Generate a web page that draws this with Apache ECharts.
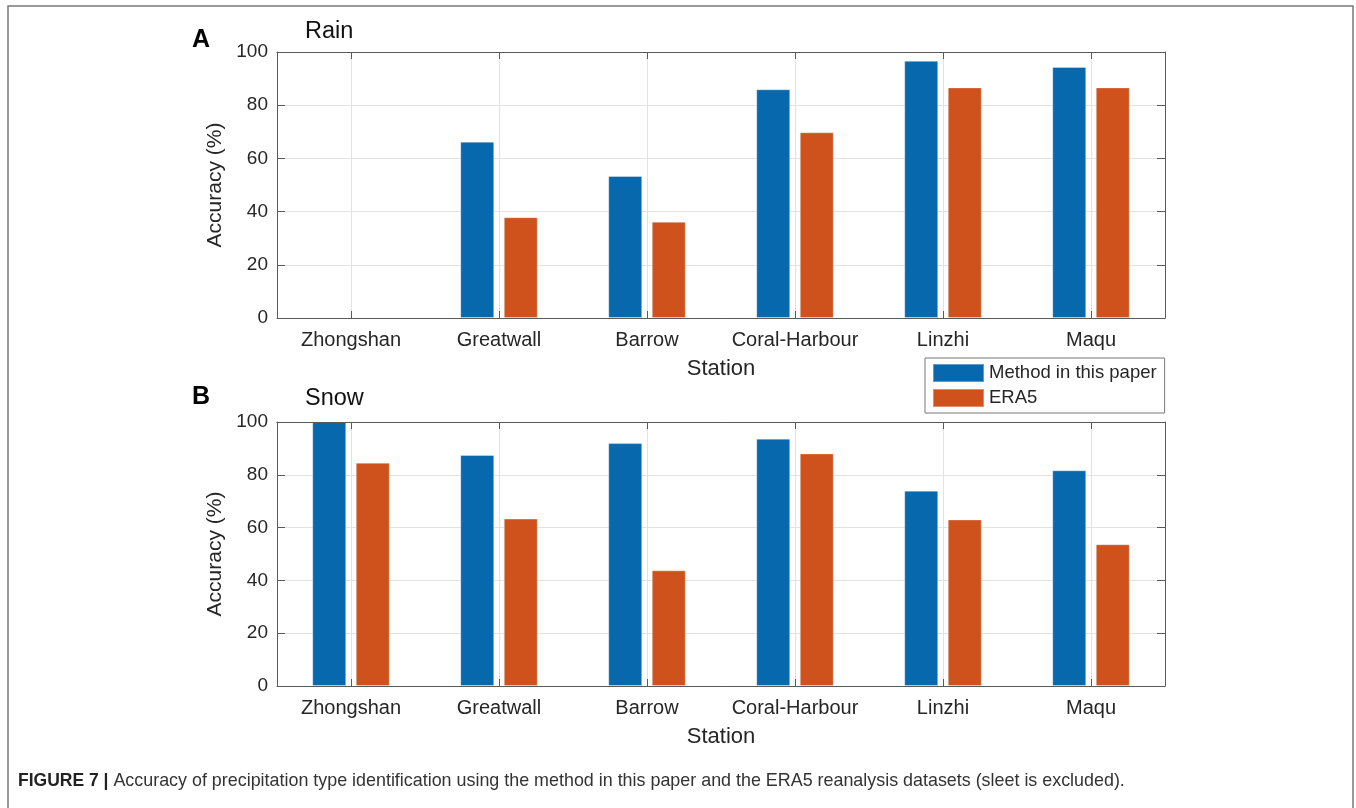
<!DOCTYPE html>
<html>
<head>
<meta charset="utf-8">
<script src="https://cdn.jsdelivr.net/npm/echarts@6/dist/echarts.min.js"></script>
<style>
  html, body { margin: 0; padding: 0; background: #ffffff; }
  #chart { width: 1356px; height: 808px; }
</style>
</head>
<body>
<div id="chart"></div>
<script>
// Stations along the x axis
const stations = ['Zhongshan', 'Greatwall', 'Barrow', 'Coral-Harbour', 'Linzhi', 'Maqu'];

// Rain identification accuracy (%); no rain record at Zhongshan
const rainMethod = [null, 66.3, 53.4, 86.0, 96.7, 94.4];
const rainEra5   = [null, 37.9, 36.2, 69.8, 86.7, 86.7];

// Snow identification accuracy (%)
const snowMethod = [100, 87.5, 92.0, 93.7, 74.0, 81.7];
const snowEra5   = [84.6, 63.4, 43.8, 88.1, 63.1, 53.7];

// y axis range
const yMin = 0, yMax = 100, yStep = 20;

const seriesNames = ['Method in this paper', 'ERA5'];
const colors = ['#0868ad', '#cf511c'];

const FONT = '"Liberation Sans", Arial, Helvetica, sans-serif';
const axisColor = '#5a5a5a';
const gridColor = '#e2e2e2';
const textColor = '#262626';

const grids = [
  { left: 277, top: 52, width: 888, height: 266 },
  { left: 277, top: 422, width: 888, height: 264 }
];

// x axes sit above the station grid lines so their inward ticks stay visible
function xAxes(gi) {
  return [
    {
      type: 'category', gridIndex: gi, data: stations, position: 'bottom', z: 5,
      name: 'Station', nameLocation: 'middle', nameGap: 40,
      nameTextStyle: { fontFamily: FONT, fontSize: 22, color: textColor },
      axisLine: { show: true, onZero: false, lineStyle: { color: axisColor, width: 1 } },
      axisTick: { show: true, inside: true, alignWithLabel: true, length: 7, lineStyle: { color: axisColor } },
      axisLabel: { fontFamily: FONT, fontSize: 20, color: textColor, margin: 12, interval: 0 },
      splitLine: { show: false }
    },
    {
      type: 'category', gridIndex: gi, data: stations, position: 'top', z: 5,
      axisLine: { show: true, onZero: false, lineStyle: { color: axisColor, width: 1 } },
      axisTick: { show: true, inside: true, alignWithLabel: true, length: 7, lineStyle: { color: axisColor } },
      axisLabel: { show: false },
      splitLine: { show: false }
    }
  ];
}

function yAxes(gi) {
  return [
    {
      type: 'value', gridIndex: gi, min: yMin, max: yMax, interval: yStep, position: 'left',
      name: 'Accuracy (%)', nameLocation: 'middle', nameGap: 45,
      nameTextStyle: { fontFamily: FONT, fontSize: 21, color: textColor },
      axisLine: { show: true, onZero: false, lineStyle: { color: axisColor, width: 1 } },
      axisTick: { show: true, inside: true, length: 8, lineStyle: { color: axisColor } },
      axisLabel: { fontFamily: FONT, fontSize: 19, color: textColor, margin: 9 },
      splitLine: { show: true, lineStyle: { color: gridColor, width: 1 } }
    },
    {
      type: 'value', gridIndex: gi, min: yMin, max: yMax, interval: yStep, position: 'right',
      axisLine: { show: true, onZero: false, lineStyle: { color: axisColor, width: 1 } },
      axisTick: { show: true, inside: true, length: 8, lineStyle: { color: axisColor } },
      axisLabel: { show: false },
      splitLine: { show: false }
    }
  ];
}

function barSeries(name, data, color, gi) {
  return {
    type: 'bar', name: name, data: data,
    xAxisIndex: gi * 2, yAxisIndex: gi * 2,
    barWidth: 34, barGap: '28%',
    itemStyle: { color: color, borderColor: 'rgba(255,255,255,0.35)', borderWidth: 1 },
    z: 3
  };
}

// vertical grid lines at each station
function stationGridLines(gi) {
  return {
    type: 'line', data: [], xAxisIndex: gi * 2, yAxisIndex: gi * 2,
    silent: true, z: 1,
    markLine: {
      silent: true, symbol: 'none', animation: false,
      label: { show: false },
      lineStyle: { color: gridColor, width: 1, type: 'solid' },
      data: stations.map(s => ({ xAxis: s }))
    }
  };
}

const chart = echarts.init(document.getElementById('chart'), null, { renderer: 'canvas' });

chart.setOption({
  animation: false,
  backgroundColor: '#ffffff',
  grid: grids,
  xAxis: xAxes(0).concat(xAxes(1)),
  yAxis: yAxes(0).concat(yAxes(1)),
  legend: {
    data: seriesNames,
    orient: 'vertical',
    left: 925, top: 358,
    icon: 'rect',
    itemWidth: 51, itemHeight: 18, itemGap: 5,
    padding: [5, 8, 5, 7],
    backgroundColor: '#ffffff',
    borderColor: '#777777', borderWidth: 1,
    textStyle: { fontFamily: FONT, fontSize: 18.5, lineHeight: 18, color: textColor },
    selectedMode: false
  },
  series: [
    stationGridLines(0),
    stationGridLines(1),
    barSeries(seriesNames[0], rainMethod, colors[0], 0),
    barSeries(seriesNames[1], rainEra5, colors[1], 0),
    barSeries(seriesNames[0], snowMethod, colors[0], 1),
    barSeries(seriesNames[1], snowEra5, colors[1], 1)
  ],
  graphic: [
    {
      type: 'rect', silent: true, z: -1,
      shape: { x: 8, y: 6, width: 1345, height: 810 },
      style: { fill: 'none', stroke: '#7a7a7a', lineWidth: 1.5 }
    },
    { type: 'text', x: 192, y: 28, style: { text: 'A', fontFamily: FONT, fontSize: 25, fontWeight: 'bold', fill: '#000' } },
    { type: 'text', x: 305, y: 20, style: { text: 'Rain', fontFamily: FONT, fontSize: 23.5, fill: '#111' } },
    { type: 'text', x: 192, y: 385, style: { text: 'B', fontFamily: FONT, fontSize: 25, fontWeight: 'bold', fill: '#000' } },
    { type: 'text', x: 305, y: 387, style: { text: 'Snow', fontFamily: FONT, fontSize: 23.5, fill: '#111' } },
    {
      type: 'text', x: 18, y: 772,
      style: {
        text: '{b|FIGURE 7 |} Accuracy of precipitation type identification using the method in this paper and the ERA5 reanalysis datasets (sleet is excluded).',
        fontFamily: FONT, fontSize: 17.9, fill: '#333333',
        rich: { b: { fontFamily: FONT, fontSize: 17.5, fontWeight: 'bold', fill: '#222222' } }
      }
    }
  ]
});
</script>
</body>
</html>
